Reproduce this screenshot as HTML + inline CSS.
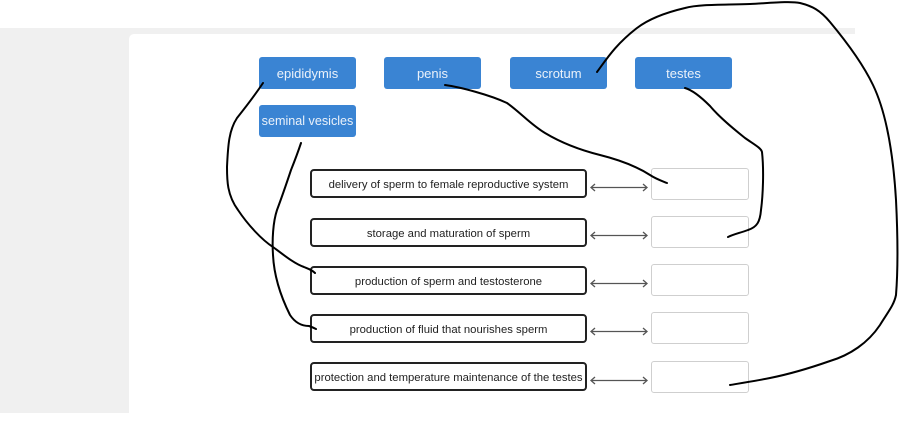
<!DOCTYPE html>
<html><head><meta charset="utf-8">
<style>
html,body{margin:0;padding:0;}
body{width:900px;height:413px;position:relative;overflow:hidden;background:#fff;font-family:"Liberation Sans",Arial,sans-serif;}
.gray{position:absolute;left:0;top:28px;width:855px;height:385px;background:#f0f0f0;}
.card{position:absolute;left:129px;top:34px;width:800px;height:400px;background:#fff;border-radius:5px 0 0 0;}
.btn{position:absolute;height:32px;width:97px;background:#3a84d3;border-radius:3px;color:#eaf1fa;font-size:13px;line-height:33px;text-align:center;white-space:nowrap;}
.tb{position:absolute;left:310px;width:273px;height:25px;border:2px solid #222;border-radius:4px;font-size:11.3px;color:#222;line-height:28px;text-align:center;white-space:nowrap;background:#fff;}
.ab{position:absolute;left:651px;width:96px;height:30px;border:1px solid #cfcfcf;border-radius:3px;background:#fff;}
svg{position:absolute;left:0;top:0;}
</style></head><body>
<div class="gray"></div>
<div class="card"></div>

<div class="btn" style="left:259px;top:57px;">epididymis</div>
<div class="btn" style="left:384px;top:57px;">penis</div>
<div class="btn" style="left:510px;top:57px;">scrotum</div>
<div class="btn" style="left:635px;top:57px;">testes</div>
<div class="btn" style="left:259px;top:105px;font-size:12.6px;">seminal vesicles</div>

<div class="tb" style="top:169px;">delivery of sperm to female reproductive system</div>
<div class="tb" style="top:218px;">storage and maturation of sperm</div>
<div class="tb" style="top:266px;">production of sperm and testosterone</div>
<div class="tb" style="top:314px;">production of fluid that nourishes sperm</div>
<div class="tb" style="top:362px;">protection and temperature maintenance of the testes</div>

<div class="ab" style="top:168px;"></div>
<div class="ab" style="top:216px;"></div>
<div class="ab" style="top:264px;"></div>
<div class="ab" style="top:312px;"></div>
<div class="ab" style="top:361px;"></div>

<svg width="900" height="413" viewBox="0 0 900 413">
  <g stroke="#555" stroke-width="1.3" fill="none">
    <g id="arr">
      <line x1="591" y1="187.5" x2="647" y2="187.5"/>
      <polyline points="595,184 591,187.5 595,191"/>
      <polyline points="643,184 647,187.5 643,191"/>
    </g>
    <use href="#arr" y="48"/>
    <use href="#arr" y="96"/>
    <use href="#arr" y="144"/>
    <use href="#arr" y="193"/>
  </g>
  <g stroke="#000" stroke-width="2" fill="none" stroke-linecap="round" stroke-linejoin="round">
    <path d="M263,83 C255,95 245,108 237,118 C229,130 228,145 227,167 C227,180 227,195 238,210 C248,225 262,240 273,247 C285,256 295,264 304,267 C309,269 312,270 315,273"/>
    <path d="M301,143 C298,152 295,160 291,170 C287,182 283,194 277,210 C273,222 272,240 273,255 C274,275 280,295 290,315 C296,324 303,326 309,326 C312,327 314,328 316,329"/>
    <path d="M445,85 C460,87 490,95 507,103 C520,112 530,124 545,133 C560,142 580,150 600,155 C620,160 636,166 650,175 C656,179 662,181 667,183"/>
    <path d="M597,72 C606,60 615,45 637,28 C650,18 668,12 685,8 C700,4 725,5 750,4 C770,3 790,1 800,3 C812,6 820,10 830,22 C845,40 862,62 873,85 C885,110 893,150 896,200 C898,240 898,270 896,295 C894,305 888,312 880,325 C868,343 850,355 830,361 C810,368 790,374 770,378 C755,381 742,383 730,385"/>
    <path d="M685,88 C692,90 700,96 710,106 C720,118 735,130 745,138 C755,145 761,148 762,152 C764,170 763,195 761,210 C760,222 757,227 748,230 C740,233 734,234 728,237"/>
  </g>
</svg>
</body></html>
